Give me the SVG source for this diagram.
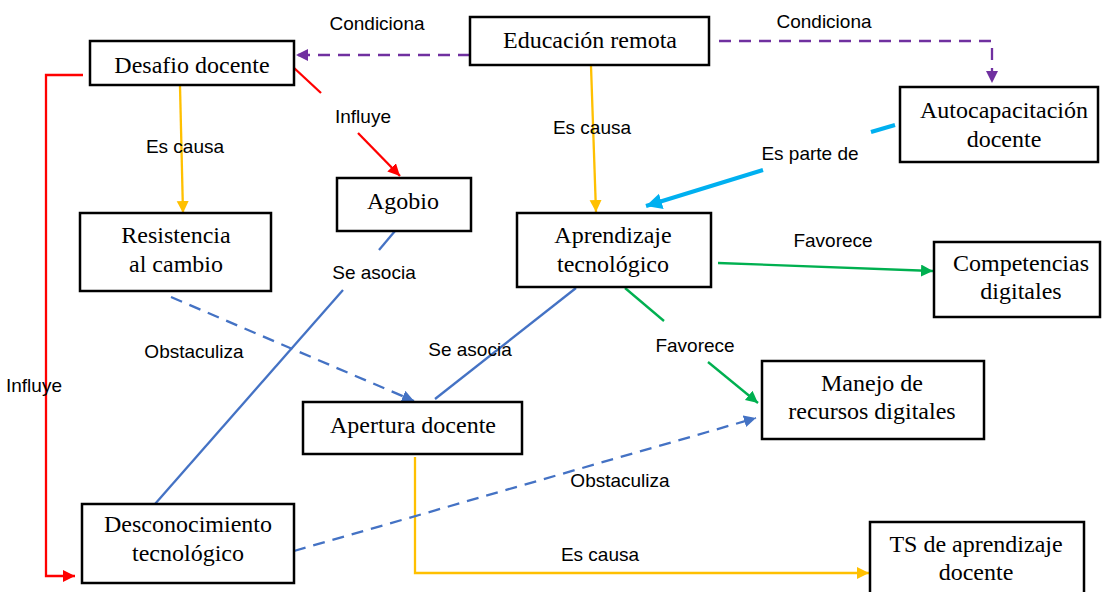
<svg xmlns="http://www.w3.org/2000/svg" width="1102" height="592" viewBox="0 0 1102 592">
<style>
.box{fill:#fff;stroke:#000;stroke-width:2.5}
.nt{font-family:"Liberation Serif","Times New Roman",serif;font-size:24px;fill:#000;text-anchor:middle}
.lb{font-family:"Liberation Sans",Arial,sans-serif;font-size:19px;fill:#000}
.c{fill:none;stroke-width:2.3}
.dash{stroke-dasharray:12 8}
.red{stroke:#FF0000}
.org{stroke:#FFC000}
.pur{stroke:#7030A0}
.blu{stroke:#4472C4}
.grn{stroke:#00B050}
.cyn{stroke:#00B0F0;stroke-width:4}
</style>
<defs>
<marker id="aRed" markerUnits="userSpaceOnUse" markerWidth="14" markerHeight="14" refX="12" refY="6" orient="auto"><path d="M0,0 L12,6 L0,12 z" fill="#FF0000"/></marker>
<marker id="aOrg" markerUnits="userSpaceOnUse" markerWidth="14" markerHeight="14" refX="12" refY="6" orient="auto"><path d="M0,0 L12,6 L0,12 z" fill="#FFC000"/></marker>
<marker id="aPur" markerUnits="userSpaceOnUse" markerWidth="14" markerHeight="14" refX="12" refY="6" orient="auto"><path d="M0,0 L12,6 L0,12 z" fill="#7030A0"/></marker>
<marker id="aBlu" markerUnits="userSpaceOnUse" markerWidth="14" markerHeight="14" refX="12" refY="6" orient="auto"><path d="M0,0 L12,6 L0,12 z" fill="#4472C4"/></marker>
<marker id="aGrn" markerUnits="userSpaceOnUse" markerWidth="14" markerHeight="14" refX="12" refY="6" orient="auto"><path d="M0,0 L12,6 L0,12 z" fill="#00B050"/></marker>
<marker id="aCyn" markerUnits="userSpaceOnUse" markerWidth="18" markerHeight="18" refX="16" refY="8" orient="auto"><path d="M0,0 L16,8 L0,16 z" fill="#00B0F0"/></marker>
</defs>
<rect width="1102" height="592" fill="#fff"/>

<g id="connectors">
<path class="c pur dash" d="M470,55 H296" marker-end="url(#aPur)"/>
<path class="c pur dash" d="M719,41 H992 V83" marker-end="url(#aPur)"/>
<path class="c org" d="M591,66 L596,212" marker-end="url(#aOrg)"/>
<path class="c org" d="M180,86 L183,213" marker-end="url(#aOrg)"/>
<path class="c org" d="M415,457 V573 H869" marker-end="url(#aOrg)"/>
<path class="c red" d="M293,67 L321,93"/>
<path class="c red" d="M358,133 L400,176" marker-end="url(#aRed)"/>
<path class="c red" d="M83,75 H46 V576 H75" marker-end="url(#aRed)"/>
<path class="c cyn" d="M895,125 L871,132"/>
<path class="c cyn" d="M763,170 L646,206" marker-end="url(#aCyn)"/>
<path class="c blu" d="M395,231 L379,250"/>
<path class="c blu" d="M343,290 L155,504"/>
<path class="c blu" d="M576,288 L435,399"/>
<path class="c blu dash" d="M171,297 L414,401" marker-end="url(#aBlu)"/>
<path class="c blu dash" d="M294,551 L756,418" marker-end="url(#aBlu)"/>
<path class="c grn" d="M718,263 L933,271" marker-end="url(#aGrn)"/>
<path class="c grn" d="M625,288 L664,321"/>
<path class="c grn" d="M708,362 L758,403" marker-end="url(#aGrn)"/>
</g>

<g id="labels">
<text class="lb" x="377" y="30" text-anchor="middle">Condiciona</text>
<text class="lb" x="824" y="28" text-anchor="middle">Condiciona</text>
<text class="lb" x="363" y="123" text-anchor="middle">Influye</text>
<text class="lb" x="185" y="153" text-anchor="middle">Es causa</text>
<text class="lb" x="592" y="134" text-anchor="middle">Es causa</text>
<text class="lb" x="810" y="160" text-anchor="middle">Es parte de</text>
<text class="lb" x="374" y="279" text-anchor="middle">Se asocia</text>
<text class="lb" x="194" y="358" text-anchor="middle">Obstaculiza</text>
<text class="lb" x="6" y="392">Influye</text>
<text class="lb" x="470" y="356" text-anchor="middle">Se asocia</text>
<text class="lb" x="833" y="247" text-anchor="middle">Favorece</text>
<text class="lb" x="695" y="352" text-anchor="middle">Favorece</text>
<text class="lb" x="620" y="487" text-anchor="middle">Obstaculiza</text>
<text class="lb" x="600" y="561" text-anchor="middle">Es causa</text>
</g>

<g id="desafio-docente"><rect class="box" x="90" y="41" width="204" height="44"/><text class="nt" x="192" y="73">Desafio docente</text></g>
<g id="educacion-remota"><rect class="box" x="470" y="17" width="239" height="48"/><text class="nt" x="590" y="48">Educación remota</text></g>
<g id="autocapacitacion-docente"><rect class="box" x="900" y="87" width="198" height="75"/><text class="nt" x="1004" y="118">Autocapacitación</text><text class="nt" x="1004" y="147">docente</text></g>
<g id="agobio"><rect class="box" x="337" y="178" width="134" height="53"/><text class="nt" x="403" y="209">Agobio</text></g>
<g id="resistencia-al-cambio"><rect class="box" x="80" y="213" width="191" height="78"/><text class="nt" x="176" y="243">Resistencia</text><text class="nt" x="176" y="272">al cambio</text></g>
<g id="aprendizaje-tecnologico"><rect class="box" x="517" y="213" width="194" height="74"/><text class="nt" x="613" y="243">Aprendizaje</text><text class="nt" x="613" y="272">tecnológico</text></g>
<g id="competencias-digitales"><rect class="box" x="934" y="242" width="166" height="75"/><text class="nt" x="1021" y="271">Competencias</text><text class="nt" x="1021" y="299">digitales</text></g>
<g id="apertura-docente"><rect class="box" x="303" y="402" width="219" height="52"/><text class="nt" x="413" y="433">Apertura docente</text></g>
<g id="manejo-recursos-digitales"><rect class="box" x="762" y="361" width="222" height="78"/><text class="nt" x="872" y="391">Manejo de</text><text class="nt" x="872" y="419">recursos digitales</text></g>
<g id="desconocimiento-tecnologico"><rect class="box" x="82" y="504" width="212" height="79"/><text class="nt" x="188" y="532">Desconocimiento</text><text class="nt" x="188" y="561">tecnológico</text></g>
<g id="ts-aprendizaje-docente"><rect class="box" x="870" y="522" width="214" height="72"/><text class="nt" x="976" y="552">TS de aprendizaje</text><text class="nt" x="976" y="580">docente</text></g>
</svg>
